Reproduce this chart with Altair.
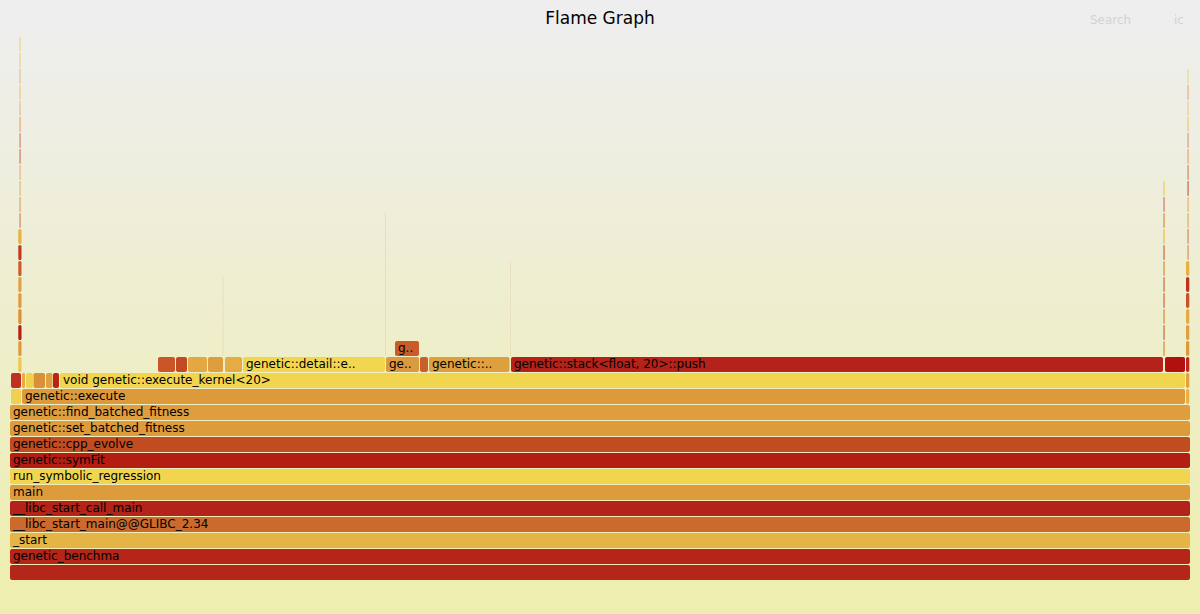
import altair as alt
import pandas as pd

W, H = 1200, 614
FONT = "DejaVu Sans"

# ---- main call stack (full-width frames), bottom level first ----
stack_names = ["", "genetic_benchma", "_start", "__libc_start_main@@GLIBC_2.34",
               "__libc_start_call_main", "main", "run_symbolic_regression",
               "genetic::symFit", "genetic::cpp_evolve",
               "genetic::set_batched_fitness", "genetic::find_batched_fitness"]
stack_colors = ["#b4251a", "#b52619", "#e4b446", "#cc6a2e", "#b42319", "#dd9b3b",
                "#f2d54e", "#b31d12", "#c24c22", "#dd9b3c", "#de9e3d"]
stack_start = 0
stack_end = 1180

# ---- other frames: level, start, end (samples), name, colour ----
f_level = [11, 11, 11,
           12, 12, 12, 12, 12, 12, 12, 12,
           13, 13, 13, 13, 13, 13, 13, 13, 13, 13, 13, 13,
           14]
f_start = [1, 12, 1176,
           1, 12, 16, 23.5, 36, 43, 50, 1176,
           148, 166, 178, 198, 215, 233, 376, 410, 419, 501, 1155, 1176,
           385]
f_end = [11, 1175, 1179.3,
         11, 15, 23, 35, 42.5, 49, 1175, 1179.3,
         165, 177, 197, 213, 232, 375, 409, 418, 499.5, 1153, 1175, 1179.3,
         409]
f_name = ["", "genetic::execute", "",
          "", "", "", "", "", "", "void genetic::execute_kernel<20>", "",
          "", "", "", "", "", "genetic::detail::e..", "ge..", "", "genetic::..",
          "genetic::stack<float, 20>::push", "", "",
          "g.."]
f_color = ["#f0d050", "#dc9a3b", "#e8b048",
           "#c03020", "#e6aa44", "#f0d050", "#d99038", "#e0a040", "#b82418", "#f2d54f", "#e0a040",
           "#c95528", "#c04a22", "#e3a744", "#de9d3e", "#e5ac45", "#f3d650", "#dc9a3e",
           "#c9602a", "#dea03e", "#b42219", "#b1100f", "#c0241a",
           "#c95c28"]

# ---- narrow towers: start, end, first level, colours per level (bottom up) ----
towers = [
    # left tower: wider part
    (8.3, 11.5, 13, ["#f0c848", "#dd9a3a", "#b81c14", "#dd9030", "#e09a3a",
                     "#e3a040", "#cc5a2a", "#c03a20", "#e8b040"]),
    # left tower: thin part
    (9.6, 10.5, 22, ["#d0603a", "#dd8a40", "#e0a060", "#e0a060", "#d05040", "#d06050",
                     "#e09040", "#e0b070", "#e8c050", "#e0b080", "#e8c860", "#e8d060"]),
    # right tower: wider part
    (1176, 1179.3, 14, ["#dd9a38", "#e0a040", "#e6aa44", "#c8502a", "#c0301e", "#e8b040"]),
    # right tower: thin part
    (1177.6, 1178.5, 20, ["#d07040", "#d06040", "#e09040", "#e0a040", "#c03020", "#d06040",
                          "#e09040", "#d08070", "#e8c050", "#e8c070", "#e0a060", "#e8d070"]),
    # column near the right
    (1153.4, 1154.7, 14, ["#e09040", "#d07040", "#e09040", "#d07040", "#d07040", "#e09040",
                          "#d07040", "#e8c050", "#e09040", "#d08070", "#e8d060"]),
    # faint lines in the middle
    (212.8, 213.2, 14, ["#e0c8a0", "#e0c8a0", "#e0c8a0", "#e0c8a0", "#e0c8a0"]),
    (375.2, 375.6, 14, ["#dcc098", "#dcc098", "#dcc098", "#dcc098", "#dcc098",
                        "#dcc098", "#dcc098", "#dcc098", "#dcc098"]),
    (500.2, 500.6, 14, ["#e0c8a0", "#e0c8a0", "#e0c8a0", "#e0c8a0", "#e0c8a0", "#e0c8a0"]),
]

rows = []
for i, (n, c) in enumerate(zip(stack_names, stack_colors)):
    rows.append(dict(level=i, start=stack_start, end=stack_end, name=n, color=c))
for lv, s, e, n, c in zip(f_level, f_start, f_end, f_name, f_color):
    rows.append(dict(level=lv, start=s, end=e, name=n, color=c))
for s, e, lv0, cols in towers:
    for k, c in enumerate(cols):
        rows.append(dict(level=lv0 + k, start=s, end=e, name="", color=c))

df = pd.DataFrame(rows)

x_scale = alt.Scale(domain=[0, 1180], range=[10, 1190], nice=False, zero=False)
y_scale = alt.Scale(domain=[0, 36], range=[580, 4], nice=False, zero=False)

base = alt.Chart(df).transform_calculate(
    top="datum.level + 1", mid="datum.level + 0.5"
)

frames = base.mark_rect(cornerRadius=2, y2Offset=1).encode(
    x=alt.X("start:Q", scale=x_scale, axis=None),
    x2="end:Q",
    y=alt.Y("level:Q", scale=y_scale, axis=None),
    y2="top:Q",
    color=alt.Color("color:N", scale=None),
)

labels = base.transform_filter("datum.name != ''").mark_text(
    align="left", baseline="middle", dx=3, dy=-0.5, font=FONT, fontSize=12, color="#000000"
).encode(
    x=alt.X("start:Q", scale=x_scale, axis=None),
    y=alt.Y("mid:Q", scale=y_scale, axis=None),
    text="name:N",
)

one = alt.Data(values=[{"a": 1}])
bg = alt.Chart(one).mark_rect(
    color=alt.Gradient(
        gradient="linear",
        stops=[alt.GradientStop(color="#eeeeee", offset=0.05),
               alt.GradientStop(color="#eeeeb0", offset=0.95)],
        x1=0, x2=0, y1=0, y2=1,
    )
).encode(x=alt.value(0), x2=alt.value(W), y=alt.value(0), y2=alt.value(H))

title = alt.Chart(one).mark_text(
    text="Flame Graph", font=FONT, fontSize=17, color="#000000",
    align="center", baseline="alphabetic"
).encode(x=alt.value(600), y=alt.value(24))

search = alt.Chart(one).mark_text(
    text="Search", font=FONT, fontSize=12, color="#d2d2d2",
    align="left", baseline="alphabetic"
).encode(x=alt.value(1090), y=alt.value(24))

ic = alt.Chart(one).mark_text(
    text="ic", font=FONT, fontSize=12, color="#d2d2d2",
    align="left", baseline="alphabetic"
).encode(x=alt.value(1174), y=alt.value(24))

chart = alt.layer(bg, frames, labels, title, search, ic).properties(
    width=W, height=H, padding=0, background="#eeeeee",
    autosize=alt.AutoSizeParams(type="none")
).configure_view(strokeWidth=0)

chart.save("out.html", embed_options={"renderer": "svg", "actions": False})
